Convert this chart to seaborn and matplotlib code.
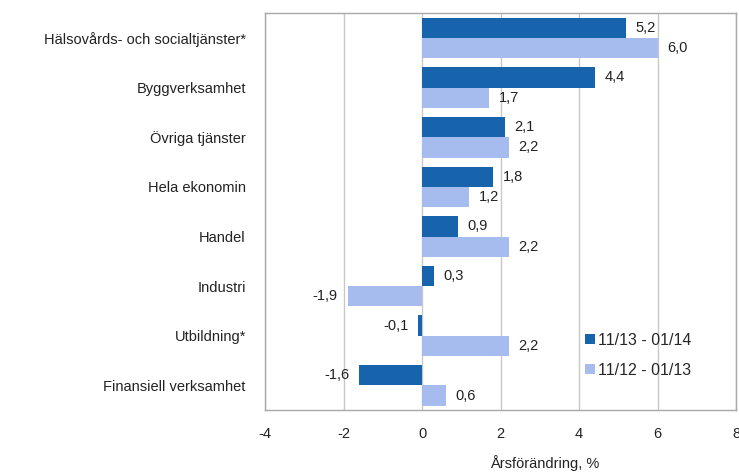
import pandas as pd
import matplotlib.pyplot as plt
import seaborn as sns

# Data
categories = ['Hälsovårds- och socialtjänster*', 'Byggverksamhet', 'Övriga tjänster',
              'Hela ekonomin', 'Handel', 'Industri', 'Utbildning*', 'Finansiell verksamhet']
period_new = '11/13 - 01/14'
period_old = '11/12 - 01/13'
values_new = [5.2, 4.4, 2.1, 1.8, 0.9, 0.3, -0.1, -1.6]
values_old = [6.0, 1.7, 2.2, 1.2, 2.2, -1.9, 2.2, 0.6]
x_ticks = [-4, -2, 0, 2, 4, 6, 8]

df = pd.DataFrame({
    'kategori': categories * 2,
    'period': [period_new] * len(categories) + [period_old] * len(categories),
    'varde': values_new + values_old,
})

sns.set_style('white')
plt.rcParams['font.family'] = ['Liberation Sans', 'DejaVu Sans']

fig, ax = plt.subplots(figsize=(7.39, 4.72), dpi=100)
fig.subplots_adjust(left=0.359, right=0.996, top=0.972, bottom=0.131)

sns.barplot(data=df, y='kategori', x='varde', hue='period', orient='h',
            palette=['#1764AD', '#A6BCEF'], width=0.82, gap=0,
            saturation=1, linewidth=0, ax=ax, zorder=3)

for cont in ax.containers:
    ax.bar_label(cont, fmt=lambda v: f'{v:.1f}'.replace('.', ','),
                 padding=7, fontsize=10.5, color='#222222')

ax.set_xlim(-4, 8)
ax.set_xticks(x_ticks)
ax.set_xticklabels([str(t) for t in x_ticks])
ax.grid(axis='x', color='#C8C8C8', linewidth=1, zorder=0)
ax.set_axisbelow(True)
for sp in ax.spines.values():
    sp.set_color('#A8A8A8')
    sp.set_linewidth(1)
ax.tick_params(axis='both', length=0, labelsize=10.5, colors='#222222')
ax.tick_params(axis='y', pad=14)
ax.tick_params(axis='x', pad=12)
ax.set_ylabel('')
ax.set_xlabel('')
fig.text(0.737, 0.02, 'Årsförändring, %', ha='center', va='center',
         fontsize=10.5, color='#222222')

ax.legend(title=None, frameon=False, loc='lower right',
          bbox_to_anchor=(0.935, 0.045), handlelength=0.6, handleheight=0.6,
          handletextpad=0.2, labelspacing=0.95, fontsize=11.5)

fig.savefig('out.png', dpi=100)
